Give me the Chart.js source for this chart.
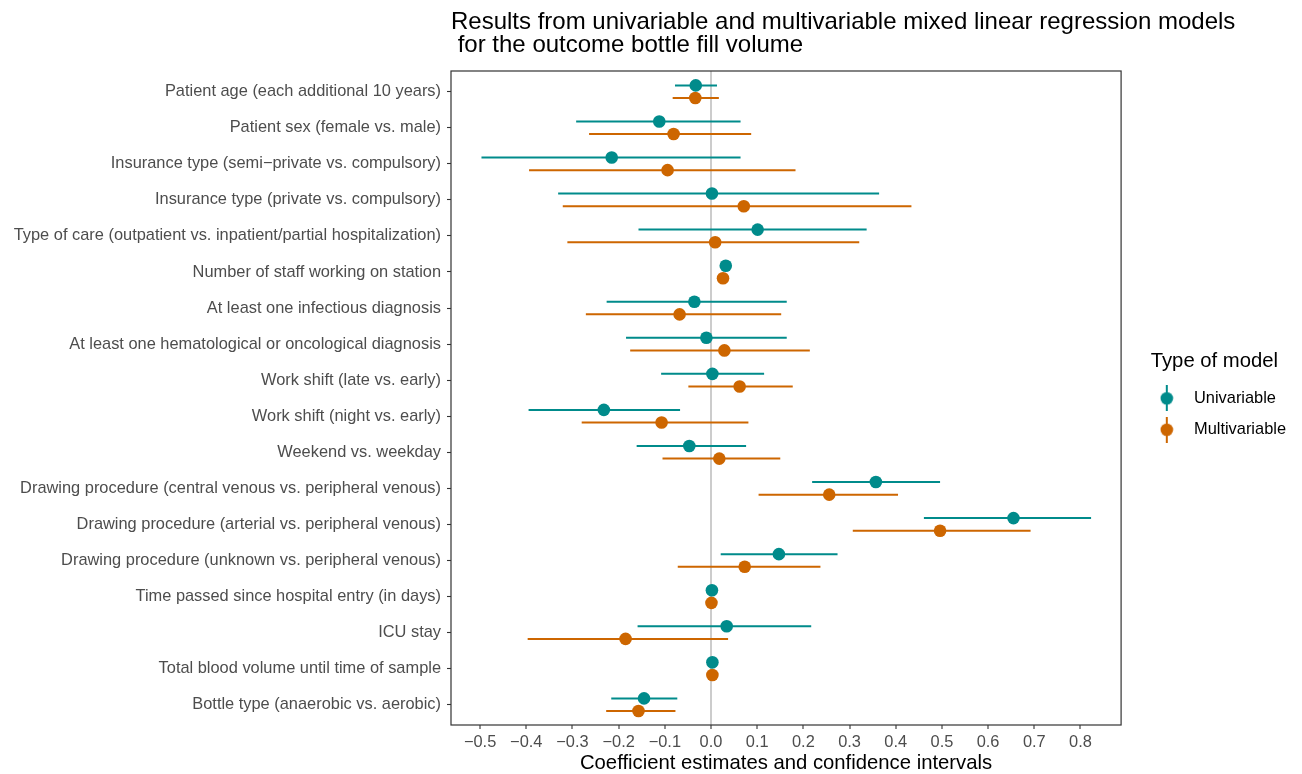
<!DOCTYPE html>
<html>
<head>
<meta charset="utf-8">
<script src="https://cdn.jsdelivr.net/npm/chart.js@4.4.1/dist/chart.umd.min.js"></script>
<style>
  html, body { margin: 0; padding: 0; background: #ffffff; }
  #wrap { width: 1302px; height: 774px; position: relative; }
</style>
</head>
<body>
<div id="wrap"><canvas id="forestChart"></canvas></div>
<script>
// predictors, top to bottom
const categories = [
  "Patient age (each additional 10 years)",
  "Patient sex (female vs. male)",
  "Insurance type (semi\u2212private vs. compulsory)",
  "Insurance type (private vs. compulsory)",
  "Type of care (outpatient vs. inpatient/partial hospitalization)",
  "Number of staff working on station",
  "At least one infectious diagnosis",
  "At least one hematological or oncological diagnosis",
  "Work shift (late vs. early)",
  "Work shift (night vs. early)",
  "Weekend vs. weekday",
  "Drawing procedure (central venous vs. peripheral venous)",
  "Drawing procedure (arterial vs. peripheral venous)",
  "Drawing procedure (unknown vs. peripheral venous)",
  "Time passed since hospital entry (in days)",
  "ICU stay",
  "Total blood volume until time of sample",
  "Bottle type (anaerobic vs. aerobic)"
];

const uniEst = [-0.033, -0.112, -0.215, 0.002, 0.101, 0.032, -0.036, -0.010, 0.003, -0.232, -0.047, 0.357, 0.655, 0.147, 0.002, 0.034, 0.003, -0.145];
const uniLo  = [-0.078, -0.292, -0.497, -0.331, -0.157, 0.022, -0.226, -0.184, -0.108, -0.395, -0.161, 0.219, 0.461, 0.021, 0.000, -0.159, 0.001, -0.216];
const uniHi  = [0.013, 0.064, 0.064, 0.364, 0.337, 0.042, 0.164, 0.164, 0.115, -0.067, 0.076, 0.496, 0.823, 0.274, 0.004, 0.217, 0.005, -0.073];

const multiEst = [-0.034, -0.081, -0.094, 0.071, 0.009, 0.026, -0.068, 0.029, 0.062, -0.107, 0.018, 0.256, 0.496, 0.073, 0.001, -0.185, 0.003, -0.157];
const multiLo  = [-0.083, -0.264, -0.394, -0.321, -0.311, 0.016, -0.271, -0.175, -0.049, -0.280, -0.105, 0.103, 0.307, -0.072, -0.001, -0.397, 0.001, -0.227];
const multiHi  = [0.017, 0.087, 0.183, 0.434, 0.321, 0.036, 0.152, 0.214, 0.177, 0.081, 0.150, 0.405, 0.692, 0.237, 0.003, 0.037, 0.005, -0.077];

const seriesNames = ["Univariable", "Multivariable"];
const xTicks = [-0.5, -0.4, -0.3, -0.2, -0.1, 0.0, 0.1, 0.2, 0.3, 0.4, 0.5, 0.6, 0.7, 0.8];

const titleLines = [
  "Results from univariable and multivariable mixed linear regression models",
  " for the outcome bottle fill volume"
];

const TEAL = "#008B8B";
const ORANGE = "#CD6600";
const FONT = "'Liberation Sans', Arial, Helvetica, sans-serif";
const dodge = 0.175;

Chart.defaults.font.family = FONT;

function pointsOf(est, off){
  return est.map((v, i) => ({x: v, y: i + off}));
}

// CI segments in one dataset, broken by null points
function segmentsOf(lo, hi, off){
  const out = [];
  lo.forEach((l, i) => {
    out.push({x: l, y: i + off});
    out.push({x: hi[i], y: i + off});
    out.push({x: null, y: null});
  });
  return out;
}

// legend key: dot with a vertical line through it
function makeKey(color){
  const c = document.createElement("canvas");
  c.width = 14; c.height = 26;
  const g = c.getContext("2d");
  g.strokeStyle = color; g.lineWidth = 2;
  g.beginPath(); g.moveTo(7, 0); g.lineTo(7, 26); g.stroke();
  g.fillStyle = color;
  g.beginPath(); g.arc(7, 13, 6.3, 0, Math.PI * 2); g.fill();
  return c;
}
const keys = [makeKey(TEAL), makeKey(ORANGE)];

const panelPlugin = {
  id: "panel",
  afterDraw(chart){
    const {ctx, chartArea: a} = chart;
    ctx.save();
    ctx.strokeStyle = "#333333";
    ctx.lineWidth = 1.2;
    ctx.strokeRect(a.left, a.top, a.right - a.left, a.bottom - a.top);
    ctx.fillStyle = "#000000";
    ctx.font = "24px " + FONT;
    ctx.textAlign = "left";
    ctx.textBaseline = "alphabetic";
    ctx.fillText(titleLines[0], a.left, 28.5);
    ctx.fillText(titleLines[1], a.left, 52);
    ctx.restore();
  }
};

new Chart(document.getElementById("forestChart"), {
  type: "scatter",
  data: {
    datasets: [
      {label: seriesNames[0], data: pointsOf(uniEst, -dodge), backgroundColor: TEAL, borderWidth: 0, pointRadius: 6.3, pointHoverRadius: 6.3},
      {label: seriesNames[1], data: pointsOf(multiEst, dodge), backgroundColor: ORANGE, borderWidth: 0, pointRadius: 6.3, pointHoverRadius: 6.3},
      {label: "ci1", data: segmentsOf(uniLo, uniHi, -dodge), showLine: true, spanGaps: false, borderColor: TEAL, borderWidth: 2, pointRadius: 0},
      {label: "ci2", data: segmentsOf(multiLo, multiHi, dodge), showLine: true, spanGaps: false, borderColor: ORANGE, borderWidth: 2, pointRadius: 0}
    ]
  },
  options: {
    responsive: true,
    maintainAspectRatio: false,
    animation: false,
    layout: {padding: {top: 71, left: 0, right: 6, bottom: 0}},
    plugins: {
      tooltip: {enabled: false},
      legend: {
        position: "right",
        align: "center",
        fullSize: false,
        title: {display: true, text: "Type of model", color: "#000000", font: {size: 20.3}, padding: {top: 7.7, bottom: 0}},
        labels: {
          color: "#000000",
          font: {size: 16.4},
          usePointStyle: true,
          pointStyleWidth: 38,
          padding: 15,
          filter: (item) => item.datasetIndex < 2,
          generateLabels: (chart) => {
            const items = Chart.defaults.plugins.legend.labels.generateLabels(chart);
            items.forEach(it => { if (it.datasetIndex < 2) it.pointStyle = keys[it.datasetIndex]; });
            return items;
          }
        }
      }
    },
    scales: {
      x: {
        type: "linear",
        min: -0.563,
        max: 0.888,
        afterBuildTicks: (s) => { s.ticks = xTicks.map(v => ({value: v})); },
        afterFit: (s) => { s.height = 49; },
        ticks: {
          autoSkip: false,
          maxRotation: 0,
          color: "#4D4D4D",
          font: {size: 16.4},
          padding: 4,
          callback: (v) => (v < 0 ? "\u2212" : "") + Math.abs(v).toFixed(1)
        },
        grid: {
          color: (c) => (c.tick && Math.abs(c.tick.value) < 1e-9) ? "#CCCCCC" : "rgba(0,0,0,0)",
          lineWidth: 2,
          tickColor: "#333333",
          tickWidth: 1.1,
          tickLength: 4
        },
        border: {display: false},
        title: {display: true, text: "Coefficient estimates and confidence intervals", color: "#000000", font: {size: 20.3, lineHeight: 1.0}, padding: {top: 0, bottom: 0}}
      },
      y: {
        type: "linear",
        reverse: true,
        min: -0.574,
        max: 17.563,
        afterBuildTicks: (s) => { s.ticks = categories.map((c, i) => ({value: i})); },
        afterFit: (s) => { s.width = 451; },
        ticks: {
          autoSkip: false,
          color: "#4D4D4D",
          font: {size: 16.4},
          padding: 6,
          callback: (v) => categories[Math.round(v)]
        },
        grid: {drawOnChartArea: false, tickColor: "#333333", tickWidth: 1.1, tickLength: 4},
        border: {display: false}
      },
      gap: {
        type: "linear",
        axis: "y",
        position: "right",
        afterFit: (s) => { s.width = 11.7; },
        ticks: {display: false},
        grid: {display: false},
        border: {display: false}
      }
    }
  },
  plugins: [panelPlugin]
});
</script>
</body>
</html>
